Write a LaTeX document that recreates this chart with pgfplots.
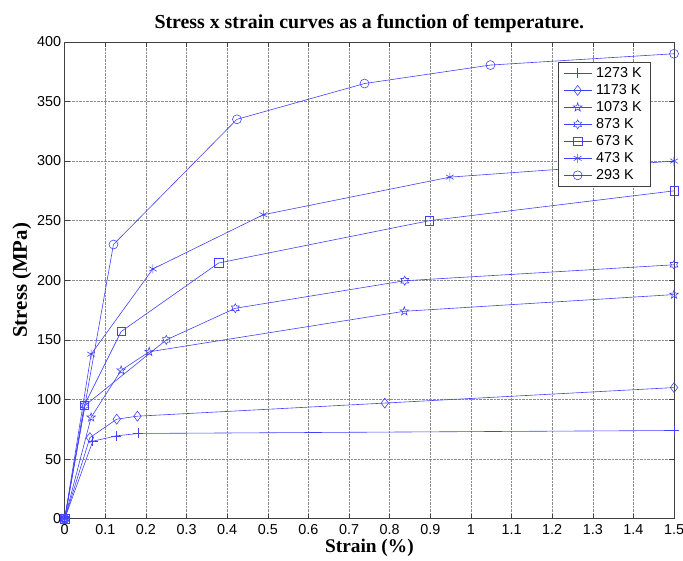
\documentclass[border=0pt]{standalone}
\usepackage{fontspec}
\setmainfont{Liberation Sans}
\newfontfamily\timesfont{Liberation Serif}
\usepackage{pgfplots}
\pgfplotsset{compat=1.18}
\definecolor{mblue}{rgb}{0.25,0.25,1}
\pgfdeclareplotmark{pentagram}{%
  \pgfpathmoveto{\pgfpointpolar{90}{\pgfplotmarksize}}%
  \pgfpathlineto{\pgfpointpolar{126}{0.4\pgfplotmarksize}}%
  \pgfpathlineto{\pgfpointpolar{162}{\pgfplotmarksize}}%
  \pgfpathlineto{\pgfpointpolar{198}{0.4\pgfplotmarksize}}%
  \pgfpathlineto{\pgfpointpolar{234}{\pgfplotmarksize}}%
  \pgfpathlineto{\pgfpointpolar{270}{0.4\pgfplotmarksize}}%
  \pgfpathlineto{\pgfpointpolar{306}{\pgfplotmarksize}}%
  \pgfpathlineto{\pgfpointpolar{342}{0.4\pgfplotmarksize}}%
  \pgfpathlineto{\pgfpointpolar{18}{\pgfplotmarksize}}%
  \pgfpathlineto{\pgfpointpolar{54}{0.4\pgfplotmarksize}}%
  \pgfpathclose\pgfusepathqstroke}
\pgfdeclareplotmark{hexagram}{%
  \pgfpathmoveto{\pgfpointpolar{90}{\pgfplotmarksize}}%
  \pgfpathlineto{\pgfpointpolar{120}{0.577\pgfplotmarksize}}%
  \pgfpathlineto{\pgfpointpolar{150}{\pgfplotmarksize}}%
  \pgfpathlineto{\pgfpointpolar{180}{0.577\pgfplotmarksize}}%
  \pgfpathlineto{\pgfpointpolar{210}{\pgfplotmarksize}}%
  \pgfpathlineto{\pgfpointpolar{240}{0.577\pgfplotmarksize}}%
  \pgfpathlineto{\pgfpointpolar{270}{\pgfplotmarksize}}%
  \pgfpathlineto{\pgfpointpolar{300}{0.577\pgfplotmarksize}}%
  \pgfpathlineto{\pgfpointpolar{330}{\pgfplotmarksize}}%
  \pgfpathlineto{\pgfpointpolar{0}{0.577\pgfplotmarksize}}%
  \pgfpathlineto{\pgfpointpolar{30}{\pgfplotmarksize}}%
  \pgfpathlineto{\pgfpointpolar{60}{0.577\pgfplotmarksize}}%
  \pgfpathclose\pgfusepathqstroke}
\begin{document}
\begin{tikzpicture}
\begin{axis}[
  scale only axis, width=612bp, height=479bp,
  xmin=0, xmax=1.5, ymin=0, ymax=400,
  xtick={0,0.1,0.2,0.3,0.4,0.5,0.6,0.7,0.8,0.9,1,1.1,1.2,1.3,1.4,1.5},
  ytick={0,50,100,150,200,250,300,350,400},
  grid=major, grid style={densely dotted, black!45, line width=0.5bp},
  tick align=inside, major tick length=5bp,
  axis line style={black!75, line width=0.6bp}, tick style={black!75, line width=0.6bp},
  tick label style={font=\fontsize{14.5}{14.5}\selectfont},
  xticklabel style={yshift=-2.5bp},
  /pgf/number format/assume math mode=true,
  title={Stress x strain curves as a function of temperature.},
  title style={font=\timesfont\bfseries\fontsize{20}{20}\selectfont, yshift=0bp},
  xlabel={Strain (\%)},
  ylabel={Stress (MPa)},
  label style={font=\timesfont\bfseries\fontsize{19.5}{19.5}\selectfont},
  ylabel style={font=\timesfont\bfseries\fontsize{21}{21}\selectfont, yshift=-1bp},
  xlabel style={yshift=3bp},
  legend style={at={(axis description cs:0.962,0.958)}, anchor=north east,
     font=\fontsize{14.5}{14.5}\selectfont, draw=black!75, line width=0.6bp,
     row sep=1.5bp, inner xsep=5bp, inner ysep=3.5bp,
     nodes={inner xsep=4bp}},
  legend cell align=left,
  legend image code/.code={\draw[mark repeat=2,mark phase=2] plot coordinates {(0cm,0cm)(0.5cm,0cm)(1cm,0cm)};},
  every axis plot/.append style={line width=0.6bp, mark options={solid, line width=0.6bp}},
]
\addplot[mblue, mark=+, mark size=5bp] coordinates {(0,0)(0.069,65)(0.127,69.5)(0.18,71.5)(1.5,74)};
\addlegendentry{1273 K}
\addplot[mblue, mark=diamond, mark size=5bp] coordinates {(0,0)(0.062,68)(0.128,83.5)(0.179,86)(0.788,97)(1.5,110)};
\addlegendentry{1173 K}
\addplot[mblue, mark=pentagram, mark size=4.5bp] coordinates {(0,0)(0.065,85)(0.139,124.5)(0.208,140)(0.836,174)(1.5,188)};
\addlegendentry{1073 K}
\addplot[mblue, mark=hexagram, mark size=4.5bp] coordinates {(0,0)(0.05,95)(0.25,150)(0.42,176.5)(0.837,199.6)(1.5,213)};
\addlegendentry{873 K}
\addplot[mblue, mark=square, mark size=4.2bp] coordinates {(0,0)(0.048,95)(0.139,157)(0.379,214.5)(0.898,250)(1.5,275)};
\addlegendentry{673 K}
\addplot[mblue, mark=asterisk, mark size=4.5bp] coordinates {(0,0)(0.065,138)(0.217,209.5)(0.489,255)(0.948,286.5)(1.5,300)};
\addlegendentry{473 K}
\addplot[mblue, mark=o, mark size=4.5bp] coordinates {(0,0)(0.12,230)(0.424,335)(0.738,365)(1.048,380.5)(1.5,390)};
\addlegendentry{293 K}
\end{axis}
\pgfresetboundingbox
\path ([shift={(-65bp,-42bp)}]current axis.south west) rectangle ([shift={(9bp,42bp)}]current axis.north east);
\end{tikzpicture}
\end{document}
